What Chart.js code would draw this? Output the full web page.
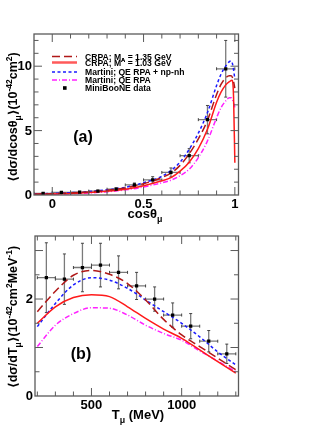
<!DOCTYPE html>
<html><head><meta charset="utf-8">
<script src="https://cdn.jsdelivr.net/npm/chart.js@4.4.0/dist/chart.umd.min.js"></script>
<style>
html,body{margin:0;padding:0;background:#fff;width:332px;height:430px;overflow:hidden}
#ca{position:absolute;left:0;top:0}
#cb{position:absolute;left:0;top:215px}
</style></head><body>
<canvas id="ca" width="332" height="232"></canvas>
<canvas id="cb" width="332" height="215"></canvas>
<script>
// ---------------- Panel (a) data : dσ/dcosθμ ----------------
const cosBins   = [-0.05, 0.05, 0.15, 0.25, 0.35, 0.45, 0.55, 0.65, 0.75, 0.85, 0.95];
const cosData   = [0.13, 0.20, 0.22, 0.30, 0.45, 0.78, 1.17, 1.75, 3.05, 5.85, 9.8];
const cosErr    = [0.05, 0.06, 0.06, 0.07, 0.10, 0.15, 0.25, 0.35, 0.55, 1.1, 2.2];
const cosHalfW  = 0.05;

const cosGrid     = [-0.1, 0, 0.1, 0.2, 0.3, 0.4, 0.5, 0.6, 0.65, 0.7, 0.75, 0.8, 0.85, 0.9, 0.925, 0.95, 0.97, 0.98, 0.99, 1.0];
const cosCRPA135  = [0.06, 0.10, 0.16, 0.24, 0.36, 0.55, 0.88, 1.35, 1.70, 2.30, 3.20, 4.35, 5.80, 7.80, 8.60, 9.10, 9.25, 9.25, 9.0, 8.3];
const cosMartNp   = [0.08, 0.12, 0.18, 0.27, 0.40, 0.60, 0.95, 1.45, 1.90, 2.55, 3.55, 4.80, 6.40, 8.50, 9.40, 10.0, 10.35, 10.4, 10.0, 9.0];
const cosMartQE   = [0.04, 0.06, 0.10, 0.16, 0.25, 0.40, 0.62, 0.95, 1.15, 1.50, 2.00, 2.90, 4.20, 6.00, 6.80, 7.30, 7.55, 7.55, 7.3, 6.8];
const cosGridRed  = [-0.1, 0, 0.1, 0.2, 0.3, 0.4, 0.5, 0.6, 0.65, 0.7, 0.75, 0.8, 0.85, 0.9, 0.925, 0.95, 0.97, 0.985, 0.993, 1.0];
const cosCRPA103  = [0.04, 0.07, 0.12, 0.19, 0.29, 0.45, 0.72, 1.10, 1.35, 1.85, 2.55, 3.60, 5.10, 7.20, 8.00, 8.55, 8.80, 8.90, 7.6, 2.5];

const cosXTicksMajor = [0, 0.5, 1];
const cosXTickLabels = ["0", "0.5", "1"];
const cosYTicksMajor = [0, 5, 10];
const cosYTickLabels = ["0", "5", "10"];

// ---------------- Panel (b) data : dσ/dTμ ----------------
const tBins  = [250, 350, 450, 550, 650, 750, 850, 950, 1050, 1150, 1250];
const tData  = [2.44, 2.41, 2.65, 2.70, 2.55, 2.27, 2.00, 1.67, 1.44, 1.13, 0.87];
const tErr   = [0.72, 0.52, 0.50, 0.45, 0.34, 0.28, 0.25, 0.25, 0.26, 0.22, 0.20];
const tHalfW = 50;

const tGrid     = [200, 300, 400, 500, 600, 700, 800, 900, 1000, 1100, 1200, 1300];
const tCRPA135  = [1.74, 2.16, 2.49, 2.59, 2.51, 2.32, 1.98, 1.58, 1.26, 1.02, 0.78, 0.54];
const tCRPA103  = [1.50, 1.84, 2.03, 2.09, 2.05, 1.84, 1.60, 1.38, 1.19, 0.95, 0.71, 0.47];
const tMartNp   = [1.43, 1.91, 2.29, 2.44, 2.39, 2.22, 1.98, 1.74, 1.50, 1.22, 0.91, 0.64];
const tMartQE   = [1.02, 1.46, 1.70, 1.82, 1.81, 1.67, 1.46, 1.29, 1.15, 0.93, 0.72, 0.50];

const tXTicksMajor = [500, 1000];
const tXTickLabels = ["500", "1000"];
const tYTicksMajor = [0, 2];
const tYTickLabels = ["0", "2"];

const seriesNames = ["CRPA; M", "CRPA; M", "Martini; QE RPA + np-nh", "Martini; QE RPA", "MiniBooNE data"];

// ---------------- styling ----------------
const FAM = '"Liberation Sans", Arial, "DejaVu Sans", sans-serif';
const C_DR = '#b01818', C_R = '#ff1a1a', C_B = '#1a1aff', C_M = '#ff22ff';
const FRAME = '#5a5a5a';

function xy(xs, ys) { return xs.map((x, i) => ({x: x, y: ys[i]})); }

function lineDS(label, xs, ys, color, dash, w) {
  return { type: 'line', label: label, data: xy(xs, ys), borderColor: color, borderDash: dash,
    borderWidth: w || 1.5, pointRadius: 0, fill: false, cubicInterpolationMode: 'monotone', order: 2 };
}
function dataDS(xs, ys) {
  return { type: 'scatter', label: 'MiniBooNE data', data: xy(xs, ys), pointStyle: 'rect',
    pointRadius: 2.3, backgroundColor: '#000', borderColor: '#000', borderWidth: 0, showLine: false, order: 1 };
}

function drawRich(ctx, segs, cx, cy, size, weight, rot, align) {
  ctx.save();
  ctx.translate(cx, cy);
  ctx.rotate(rot || 0);
  ctx.textBaseline = 'alphabetic';
  ctx.textAlign = 'left';
  let total = 0; const ws = [];
  for (const s of segs) {
    const fs = s[1] ? size * 0.68 : size;
    ctx.font = weight + ' ' + fs + 'px ' + FAM;
    const w = ctx.measureText(s[0]).width; ws.push(w); total += w;
  }
  let x = align === 'left' ? 0 : (align === 'right' ? -total : -total / 2);
  segs.forEach((s, i) => {
    const fs = s[1] ? size * 0.68 : size;
    ctx.font = weight + ' ' + fs + 'px ' + FAM;
    const dy = s[1] === 1 ? size * 0.28 : (s[1] === 2 ? -size * 0.42 : 0);
    ctx.fillText(s[0], x, dy);
    x += ws[i];
  });
  ctx.restore();
}

function makeAxesPlugin(cfg) {
  return {
    id: 'axes_' + cfg.id,
    beforeDatasetsDraw(chart) {
      const ctx = chart.ctx, xs = chart.scales.x, ys = chart.scales.y;
      const a = chart.chartArea;
      ctx.save();
      ctx.beginPath(); ctx.rect(a.left, a.top, a.right - a.left, a.bottom - a.top); ctx.clip();
      ctx.strokeStyle = '#7a7a7a'; ctx.lineWidth = 1.3;
      cfg.bins.forEach((b, i) => {
        const px = xs.getPixelForValue(b), py = ys.getPixelForValue(cfg.vals[i]);
        const x0 = xs.getPixelForValue(b - cfg.halfW), x1 = xs.getPixelForValue(b + cfg.halfW);
        const y0 = ys.getPixelForValue(cfg.vals[i] - cfg.err[i]), y1 = ys.getPixelForValue(cfg.vals[i] + cfg.err[i]);
        ctx.beginPath();
        ctx.moveTo(x0, py); ctx.lineTo(x1, py);
        ctx.moveTo(px, y0); ctx.lineTo(px, y1);
        ctx.stroke();
        ctx.beginPath(); ctx.strokeStyle = '#444'; ctx.lineWidth = 1;
        ctx.moveTo(x0, py - 1.5); ctx.lineTo(x0, py + 1.5);
        ctx.moveTo(x1, py - 1.5); ctx.lineTo(x1, py + 1.5);
        ctx.moveTo(px - 1.5, y0); ctx.lineTo(px + 1.5, y0);
        ctx.moveTo(px - 1.5, y1); ctx.lineTo(px + 1.5, y1);
        ctx.stroke();
        ctx.strokeStyle = '#7a7a7a'; ctx.lineWidth = 1.3;
      });
      ctx.restore();
    },
    afterDraw(chart) {
      const ctx = chart.ctx, xs = chart.scales.x, ys = chart.scales.y;
      const a = chart.chartArea;
      ctx.save();
      // frame
      ctx.strokeStyle = FRAME; ctx.lineWidth = 1.3;
      ctx.strokeRect(a.left, a.top, a.right - a.left, a.bottom - a.top);
      // ticks
      ctx.beginPath();
      for (let v = cfg.xMinorStart; v <= cfg.xMax + 1e-9; v += cfg.xMinorStep) {
        const vv = Math.round(v * 1000) / 1000;
        const px = xs.getPixelForValue(vv);
        if (px < a.left + 0.5 || px > a.right - 0.5) continue;
        const major = cfg.xMajor.some(m => Math.abs(m - vv) < 1e-6);
        const L = major ? 8 : 4.5;
        ctx.moveTo(px, a.bottom); ctx.lineTo(px, a.bottom - L);
        ctx.moveTo(px, a.top); ctx.lineTo(px, a.top + L);
      }
      for (let v = cfg.yMinorStart; v <= cfg.yMax + 1e-9; v += cfg.yMinorStep) {
        const vv = Math.round(v * 1000) / 1000;
        const py = ys.getPixelForValue(vv);
        if (py < a.top + 0.5 || py > a.bottom - 0.5) continue;
        const major = cfg.yLong.some(m => Math.abs(m - vv) < 1e-6);
        const L = major ? 8 : 4.5;
        ctx.moveTo(a.left, py); ctx.lineTo(a.left + L, py);
        ctx.moveTo(a.right, py); ctx.lineTo(a.right - L, py);
      }
      ctx.lineWidth = 1; ctx.stroke();
      // tick labels
      ctx.fillStyle = '#000';
      ctx.font = 'bold 13px ' + FAM;
      ctx.textAlign = 'center'; ctx.textBaseline = 'alphabetic';
      cfg.xMajor.forEach((m, i) => ctx.fillText(cfg.xLabels[i], xs.getPixelForValue(m), a.bottom + 13));
      ctx.textAlign = 'right'; ctx.textBaseline = 'middle';
      cfg.yMajor.forEach((m, i) => ctx.fillText(cfg.yLabels[i], a.left - 2, ys.getPixelForValue(m) + 0.5));
      // titles
      drawRich(ctx, cfg.xTitle, cfg.xTitlePos[0], cfg.xTitlePos[1], 13, 'bold', 0, 'center');
      drawRich(ctx, cfg.yTitle, cfg.yTitlePos[0], cfg.yTitlePos[1], 12.5, 'bold', -Math.PI / 2, 'center');
      // panel label
      ctx.font = 'bold 16px ' + FAM; ctx.textAlign = 'center'; ctx.textBaseline = 'middle';
      ctx.fillText(cfg.panel, cfg.panelPos[0], cfg.panelPos[1]);
      if (cfg.legend) cfg.legend(ctx);
      ctx.restore();
    }
  };
}

function drawLegend(ctx) {
  const x0 = 52, x1 = 77, tx = 85;
  const rows = [56.5, 62.5, 72, 80, 88];
  ctx.save();
  ctx.lineWidth = 1.5;
  // row 1
  ctx.strokeStyle = C_DR; ctx.setLineDash([8, 4]);
  ctx.beginPath(); ctx.moveTo(x0, rows[0]); ctx.lineTo(x1, rows[0]); ctx.stroke();
  // row 2
  ctx.strokeStyle = '#ff5a5a'; ctx.setLineDash([]); ctx.lineWidth = 2.5;
  ctx.beginPath(); ctx.moveTo(x0, rows[1]); ctx.lineTo(x1, rows[1]); ctx.stroke();
  // row 3
  ctx.strokeStyle = C_B; ctx.setLineDash([3, 2.5]); ctx.lineWidth = 1.3;
  ctx.beginPath(); ctx.moveTo(x0, rows[2]); ctx.lineTo(x1, rows[2]); ctx.stroke();
  // row 4
  ctx.strokeStyle = C_M; ctx.setLineDash([5, 2, 1, 2]); ctx.lineWidth = 1.3;
  ctx.beginPath(); ctx.moveTo(x0, rows[3]); ctx.lineTo(x1, rows[3]); ctx.stroke();
  ctx.setLineDash([]);
  // row 5
  ctx.fillStyle = '#000'; ctx.fillRect(63, rows[4] - 1.8, 3.6, 3.6);
  const fs = 8.6;
  drawRich(ctx, [[seriesNames[0], 0], ["A", 1], [" = 1.35 GeV", 0]], tx, rows[0] + 3, fs, 'bold', 0, 'left');
  drawRich(ctx, [[seriesNames[1], 0], ["A", 2], [" = 1.03 GeV", 0]], tx, rows[1] + 3, fs, 'bold', 0, 'left');
  drawRich(ctx, [[seriesNames[2], 0]], tx, rows[2] + 3, fs, 'bold', 0, 'left');
  drawRich(ctx, [[seriesNames[3], 0]], tx, rows[3] + 3, fs, 'bold', 0, 'left');
  drawRich(ctx, [[seriesNames[4], 0]], tx, rows[4] + 3, fs, 'bold', 0, 'left');
  ctx.restore();
}

function baseOptions(xmin, xmax, ymin, ymax, pad) {
  return {
    responsive: false, animation: false, events: [],
    layout: { padding: pad },
    plugins: { legend: { display: false }, tooltip: { enabled: false } },
    scales: {
      x: { type: 'linear', min: xmin, max: xmax, display: false },
      y: { type: 'linear', min: ymin, max: ymax, display: false }
    }
  };
}

// Panel (a)
new Chart(document.getElementById('ca'), {
  type: 'line',
  data: { datasets: [
    dataDS(cosBins, cosData),
    lineDS('CRPA; MA = 1.35 GeV', cosGrid, cosCRPA135, C_DR, [8, 4]),
    lineDS('CRPA; MA = 1.03 GeV', cosGridRed, cosCRPA103, C_R, []),
    lineDS('Martini; QE RPA + np-nh', cosGrid, cosMartNp, C_B, [3, 2.5]),
    lineDS('Martini; QE RPA', cosGrid, cosMartQE, C_M, [5, 2, 1, 2])
  ]},
  options: baseOptions(-0.1, 1.02, 0, 12.5, { left: 34, right: 93.5, top: 34, bottom: 232 - 195 }),
  plugins: [makeAxesPlugin({
    id: 'a', bins: cosBins, vals: cosData, err: cosErr, halfW: cosHalfW,
    xMinorStart: -0.1, xMinorStep: 0.1, xMax: 1.02, xMajor: cosXTicksMajor, xLabels: cosXTickLabels,
    yMinorStart: 0, yMinorStep: 1, yMax: 12.5, yMajor: cosYTicksMajor, yLong: cosYTicksMajor, yLabels: cosYTickLabels,
    xTitle: [["cosθ", 0], ["μ", 1]], xTitlePos: [145, 218],
    yTitle: [["⟨dσ/dcosθ", 0], ["μ", 1], ["⟩(10", 0], ["-42", 2], ["cm", 0], ["2", 2], [")", 0]], yTitlePos: [17, 117],
    panel: '(a)', panelPos: [83, 138], legend: drawLegend
  })]
});

// Panel (b)
new Chart(document.getElementById('cb'), {
  type: 'line',
  data: { datasets: [
    dataDS(tBins, tData),
    lineDS('CRPA; MA = 1.35 GeV', tGrid, tCRPA135, C_DR, [8, 4]),
    lineDS('CRPA; MA = 1.03 GeV', tGrid, tCRPA103, C_R, []),
    lineDS('Martini; QE RPA + np-nh', tGrid, tMartNp, C_B, [3, 2.5]),
    lineDS('Martini; QE RPA', tGrid, tMartQE, C_M, [5, 2, 1, 2])
  ]},
  options: baseOptions(187, 1315, 0, 3.3, { left: 35, right: 93.5, top: 21, bottom: 34 }),
  plugins: [makeAxesPlugin({
    id: 'b', bins: tBins, vals: tData, err: tErr, halfW: tHalfW,
    xMinorStart: 200, xMinorStep: 100, xMax: 1315, xMajor: tXTicksMajor, xLabels: tXTickLabels,
    yMinorStart: 0, yMinorStep: 0.5, yMax: 3.3, yMajor: tYTicksMajor, yLong: [0, 1, 2, 3], yLabels: tYTickLabels,
    xTitle: [["T", 0], ["μ", 1], [" (MeV)", 0]], xTitlePos: [138, 204],
    yTitle: [["⟨dσ/dT", 0], ["μ", 1], ["⟩(10", 0], ["-42", 2], ["cm", 0], ["2", 2], ["MeV", 0], ["-1", 2], [")", 0]], yTitlePos: [17, 102],
    panel: '(b)', panelPos: [81, 140]
  })]
});
</script>
</body></html>
